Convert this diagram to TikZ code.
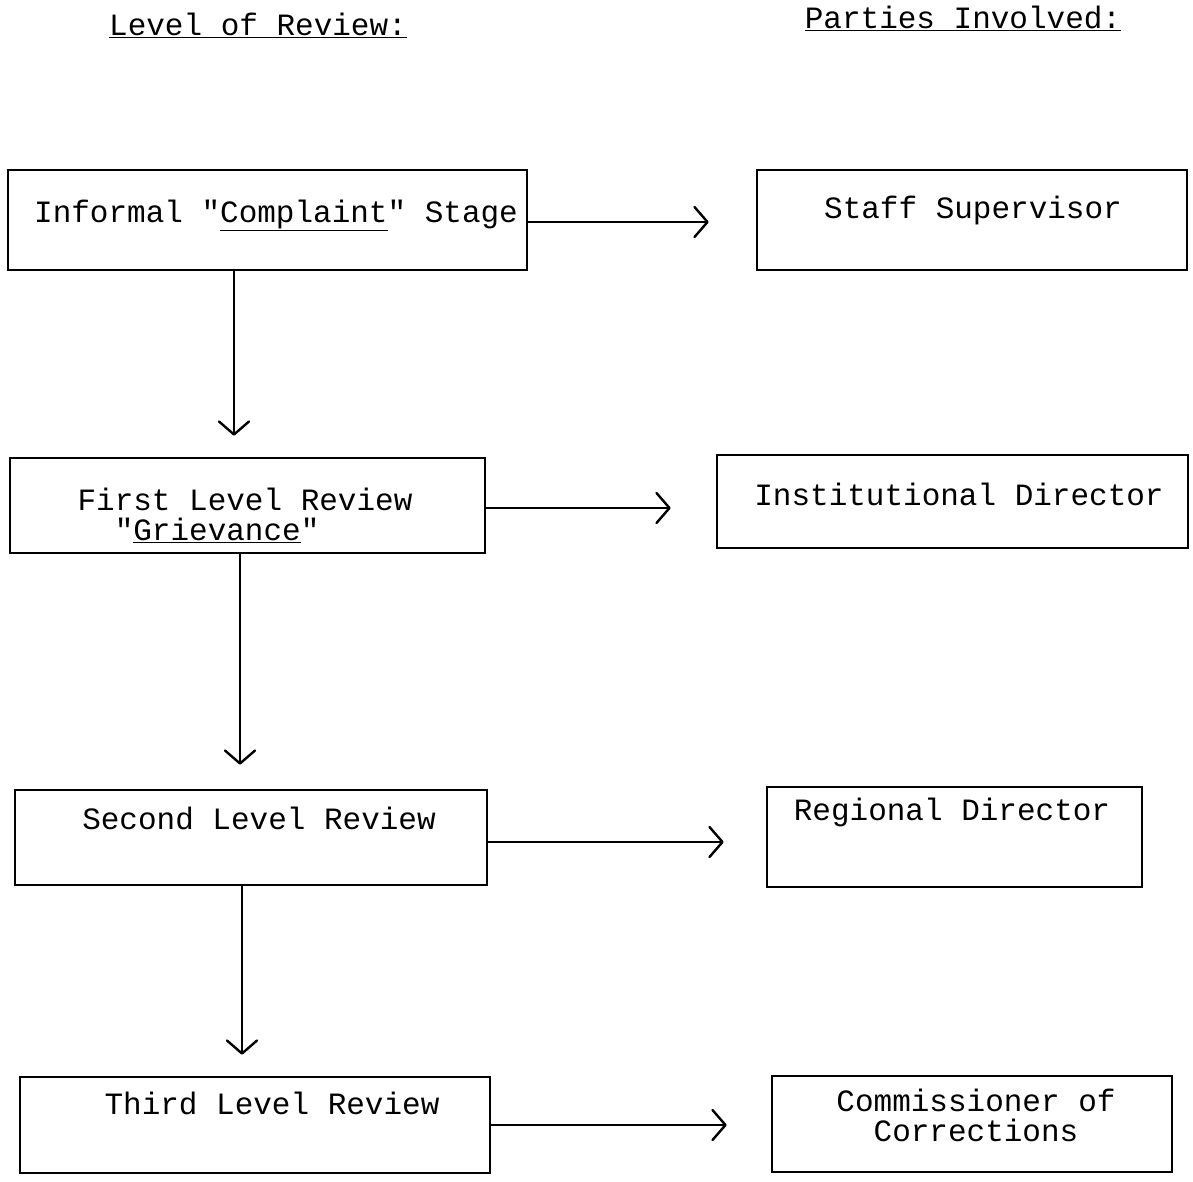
\documentclass[tikz,border=0pt]{standalone}
\usepackage{fontspec}
\setmonofont{Liberation Mono}
\usepackage{tikz}
\usetikzlibrary{arrows.meta}

\begin{document}
\begin{tikzpicture}[x=1pt,y=-1pt,
		box/.style={draw=black,line width=2.6pt,inner sep=0pt},
		txt/.style={font=\fontsize{31}{30}\selectfont\ttfamily,inner sep=0pt},
		>={Straight Barb[length=13pt,width=30pt,line width=2.4pt,round]},
		link/.style={->,line width=2.2pt}]
			\useasboundingbox (0,0) rectangle (1193,1181);
			
			% heads
			
			\node[txt] (h1) at (258,25) {\underline{Level of Review:}};
			\node[txt] (h2) at (963,18) {\underline{Parties Involved:}};
			
			% levels
			
			\node[box,minimum width=519,minimum height=100] (inf) at (267.5,220) {};
			\node[box,minimum width=475,minimum height=95] (first) at (247.5,505.5) {};
			\node[box,minimum width=472,minimum height=95] (second) at (251,837.5) {};
			\node[box,minimum width=470,minimum height=96] (third) at (255,1125) {};
			
			\node[txt] (inft) at (276,215) {Informal "\underline{Complaint}" Stage};
			\node[txt,align=left] (firstt) at (245,515) {First Level Review\\\hspace*{1.2em}"\underline{Grievance}"};
			\node[txt] (secondt) at (259,818) {Second Level Review};
			\node[txt] (thirdt) at (272,1103) {Third Level Review};
			
			% parties
			
			\node[box,minimum width=430,minimum height=100] (staff) at (972,220) {};
			\node[box,minimum width=471,minimum height=93] (inst) at (952.5,501.5) {};
			\node[box,minimum width=375,minimum height=100] (reg) at (954.5,837) {};
			\node[box,minimum width=400,minimum height=96] (comm) at (972,1124) {};
			
			\node[txt] (stafft) at (973,210) {Staff Supervisor};
			\node[txt] (instt) at (959,494) {Institutional Director};
			\node[txt] (regt) at (952,812) {Regional Director};
			\node[txt,align=center] (commt) at (976,1115) {Commissioner of\\Corrections};
			
			% arrows
			
			\draw[link,shorten >=47pt] ([yshift=-2pt]inf.east) -- ([yshift=-2pt]inf.east -| staff.west);
			\draw[link,shorten >=45pt] ([yshift=-2.5pt]first.east) -- ([yshift=-2.5pt]first.east -| inst.west);
			\draw[link,shorten >=42pt] ([yshift=-4.5pt]second.east) -- ([yshift=-4.5pt]second.east -| reg.west);
			\draw[link,shorten >=44pt] (third.east) -- (third.east -| comm.west);
			
			\draw[link,shorten >=21pt] ([xshift=-33.5pt]inf.south) -- ([xshift=-33.5pt]inf.south |- first.north);
			\draw[link,shorten >=24pt] ([xshift=-7.5pt]first.south) -- ([xshift=-7.5pt]first.south |- second.north);
			\draw[link,shorten >=21pt] ([xshift=-9pt]second.south) -- ([xshift=-9pt]second.south |- third.north);
			
\end{tikzpicture}
\end{document}
